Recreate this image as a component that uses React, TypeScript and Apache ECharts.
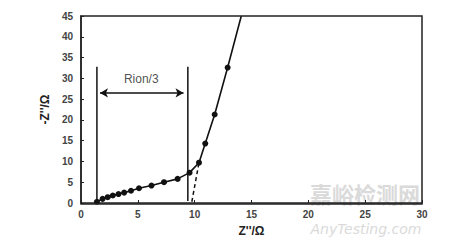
import React, { useEffect, useRef } from "react";
import * as echarts from "echarts";

const zRe = [1.4, 1.9, 2.35, 2.8, 3.3, 3.8, 4.4, 5.1, 6.2, 7.3, 8.5, 9.55, 10.38, 10.93, 11.76, 12.9];
const zIm = [0.3, 1.0, 1.4, 1.8, 2.15, 2.5, 2.95, 3.55, 4.2, 5.0, 5.8, 7.3, 9.7, 14.3, 21.3, 32.6];
const lineEnd = [14.1, 45];
const dashedFit = [[9.75, 0.3], [10.38, 9.7]];
const leftBar = [[1.4, 0], [1.4, 32.8]];
const rightBar = [[9.4, 0.5], [9.4, 32.8]];
const arrowFrom = [1.67, 26.5];
const arrowTo = [9.02, 26.5];
const labelPos = [5.3, 29.8];
const labelText = "Rion/3";
const xTicks = [0, 5, 10, 15, 20, 25, 30];
const yTicks = [0, 5, 10, 15, 20, 25, 30, 35, 40, 45];

export default function App() {
  const ref = useRef<HTMLDivElement>(null);
  useEffect(() => {
    if (!ref.current) return;
    const chart = echarts.init(ref.current, null, { renderer: "svg" });
    const mainData: any[] = zRe.map((x, i) => [x, zIm[i]]);
    mainData.push({ value: lineEnd, symbol: "none" });
    const font = "'Liberation Sans', Arial, sans-serif";
    chart.setOption({
      animation: false,
      grid: { left: 81, right: 28, top: 16, bottom: 38 },
      xAxis: {
        type: "value",
        min: xTicks[0],
        max: xTicks[xTicks.length - 1],
        interval: 5,
        name: "Z''/Ω",
        nameLocation: "middle",
        nameGap: 22,
        nameTextStyle: { fontFamily: font, fontSize: 12, fontWeight: "bold", color: "#222" },
        axisLine: { show: true, onZero: false, lineStyle: { color: "#222", width: 1.5 } },
        axisTick: { show: true, inside: true, length: 3, lineStyle: { color: "#222" } },
        axisLabel: { fontFamily: font, fontSize: 10, fontWeight: "bold", color: "#444", margin: 6 },
        splitLine: { show: false },
      },
      yAxis: {
        type: "value",
        min: yTicks[0],
        max: yTicks[yTicks.length - 1],
        interval: 5,
        name: "-Z''/Ω",
        nameLocation: "middle",
        nameGap: 28,
        nameRotate: 90,
        nameTextStyle: { fontFamily: font, fontSize: 12, fontWeight: "bold", color: "#222" },
        axisLine: { show: true, onZero: false, lineStyle: { color: "#222", width: 1.5 } },
        axisTick: { show: true, inside: true, length: 3, lineStyle: { color: "#222" } },
        axisLabel: { fontFamily: font, fontSize: 10, fontWeight: "bold", color: "#444", margin: 8 },
        splitLine: { show: false },
      },
      graphic: [
        {
          type: "rect",
          shape: { x: 81, y: 16, width: 341, height: 188 },
          style: { fill: "none", stroke: "#222", lineWidth: 1.5 },
          z: 10,
          silent: true,
        },
        {
          type: "text",
          x: 365,
          y: 193,
          z: -1,
          style: {
            text: "嘉峪检测网",
            font: "bold 22px 'Noto Sans CJK SC'",
            fill: "#dadada",
            align: "center",
            verticalAlign: "middle",
          },
        },
        {
          type: "text",
          x: 366,
          y: 229,
          z: -1,
          style: {
            text: "AnyTesting.com",
            font: "italic 14px 'DejaVu Sans'",
            fill: "#dadada",
            align: "center",
            verticalAlign: "middle",
          },
        },
      ],
      series: [
        {
          type: "line",
          data: mainData,
          symbol: "circle",
          symbolSize: 6,
          itemStyle: { color: "#111" },
          lineStyle: { color: "#111", width: 1.6 },
          z: 5,
        },
        {
          type: "line",
          data: dashedFit,
          symbol: "none",
          lineStyle: { color: "#111", width: 1.5, type: [4, 3] },
        },
        {
          type: "line",
          data: leftBar,
          symbol: "none",
          lineStyle: { color: "#111", width: 1.5 },
        },
        {
          type: "line",
          data: rightBar,
          symbol: "none",
          lineStyle: { color: "#111", width: 1.5 },
          markLine: {
            silent: true,
            symbol: ["arrow", "arrow"],
            symbolSize: [7, 8],
            label: { show: false },
            lineStyle: { color: "#111", width: 1.5, type: "solid" },
            data: [[{ coord: arrowFrom }, { coord: arrowTo }]],
          },
        },
        {
          type: "scatter",
          data: [labelPos],
          symbolSize: 0,
          label: {
            show: true,
            position: "inside",
            formatter: labelText,
            fontFamily: font,
            fontSize: 12,
            color: "#222",
          },
        },
      ],
    });
    return () => chart.dispose();
  }, []);
  return <div ref={ref} style={{ width: 450, height: 242, marginLeft: -8, marginTop: -8 }} />;
}
